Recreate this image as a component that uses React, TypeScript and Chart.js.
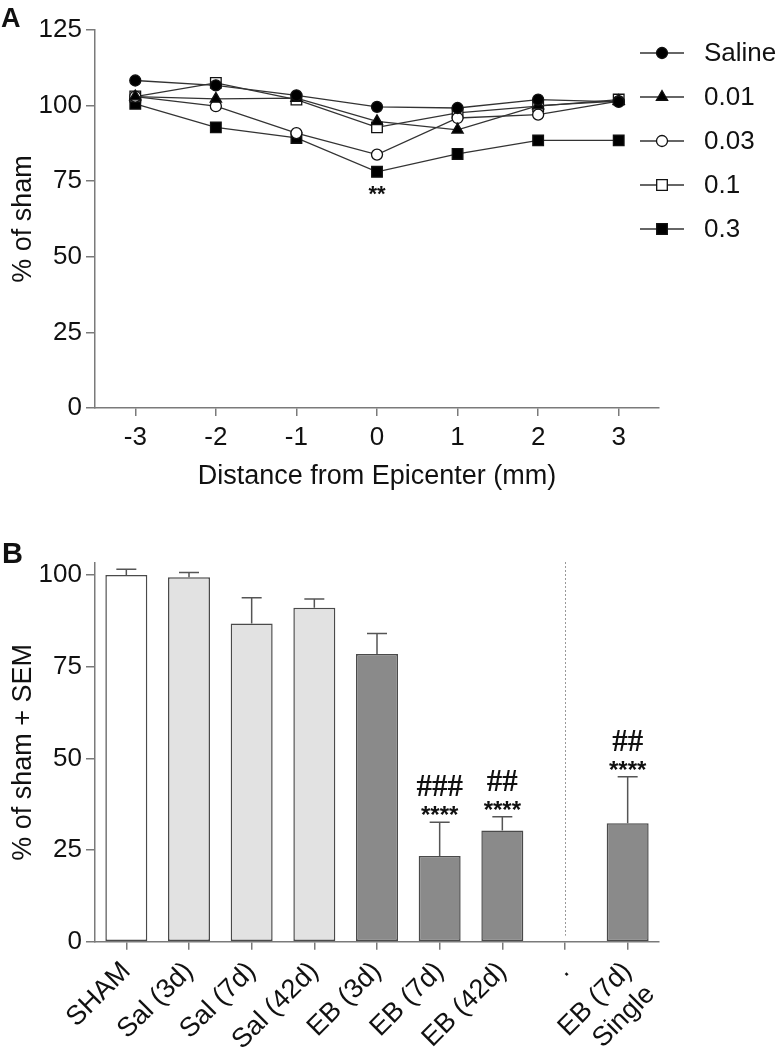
import React, { useEffect, useRef } from "react";
import { Chart, registerables } from "chart.js";
Chart.register(...registerables);

// ---------- Panel A data ----------
const distances = [-3, -2, -1, 0, 1, 2, 3];
const salineA = [108.3, 106.7, 103.4, 99.6, 99.2, 102, 101.2];
const dose001 = [103, 102.2, 102.5, 94.8, 92, 100, 101.5];
const dose003 = [103, 99.8, 90.9, 83.8, 95.9, 97, 101.5];
const dose01 = [103, 107.5, 102, 92.8, 97.6, 99.8, 102];
const dose03 = [100.6, 92.8, 89.3, 78.1, 84, 88.5, 88.5];
const seriesNames = ["Saline", "0.01", "0.03", "0.1", "0.3"];
const yTicksA = [0, 25, 50, 75, 100, 125];

// ---------- Panel B data ----------
const groups: (string | string[])[] = [
  "SHAM", "Sal (3d)", "Sal (7d)", "Sal (42d)", "EB (3d)", "EB (7d)", "EB (42d)", ".", ["EB (7d)", "Single"],
];
const means = [100, 99.4, 86.8, 91.1, 78.5, 23.4, 30.3, null, 32.3];
const sems = [1.6, 1.3, 7, 2.4, 5.6, 9.2, 3.8, null, 12.7];
const hashMarks = ["", "", "", "", "", "###", "##", "", "##"];
const starMarks = ["", "", "", "", "", "****", "****", "", "****"];
const yTicksB = [0, 25, 50, 75, 100];

const FONT = '"Liberation Sans", Arial, sans-serif';
const AXIS = "#7a7a7a";
const TXT = "#111";

const seriesValues = [salineA, dose001, dose003, dose01, dose03];
const markerStyles = [
  { pointStyle: "circle", radius: 5.5, fill: "#000" },
  { pointStyle: "triangle", radius: 6.5, fill: "#000" },
  { pointStyle: "circle", radius: 5.5, fill: "#fff" },
  { pointStyle: "rect", radius: 7.5, fill: "#fff" },
  { pointStyle: "rect", radius: 7.5, fill: "#000" },
];

function drawMarker(ctx: CanvasRenderingContext2D, style: string, r: number, x: number, y: number, fill: string) {
  ctx.save();
  ctx.fillStyle = fill;
  ctx.strokeStyle = "#111";
  ctx.lineWidth = 1.3;
  ctx.beginPath();
  if (style === "circle") {
    ctx.arc(x, y, r, 0, Math.PI * 2);
  } else if (style === "rect") {
    const s = Math.SQRT1_2 * r;
    ctx.rect(x - s, y - s, 2 * s, 2 * s);
  } else {
    for (let k = 0; k < 3; k++) {
      const a = (k * 2 * Math.PI) / 3;
      const px = x + Math.sin(a) * r;
      const py = y - Math.cos(a) * r;
      if (k === 0) ctx.moveTo(px, py);
      else ctx.lineTo(px, py);
    }
    ctx.closePath();
  }
  ctx.fill();
  ctx.stroke();
  ctx.restore();
}

function barFill(label: string | string[]) {
  const s = Array.isArray(label) ? label.join(" ") : label;
  if (s === "SHAM") return "#ffffff";
  if (s.startsWith("Sal")) return "#e2e2e2";
  return "#8a8a8a";
}

export default function App() {
  const refA = useRef<HTMLCanvasElement>(null);
  const refB = useRef<HTMLCanvasElement>(null);

  useEffect(() => {
    Chart.defaults.font.family = FONT;
    Chart.defaults.color = TXT;

    const legendPlugin = {
      id: "legendA",
      afterDraw(chart: any) {
        const ctx = chart.ctx as CanvasRenderingContext2D;
        const rows = [53, 97, 141, 185, 229];
        seriesNames.forEach((name, i) => {
          const y = rows[i];
          ctx.save();
          ctx.strokeStyle = "#333";
          ctx.lineWidth = 1.3;
          ctx.beginPath();
          ctx.moveTo(640, y);
          ctx.lineTo(684, y);
          ctx.stroke();
          ctx.restore();
          const m = markerStyles[i];
          drawMarker(ctx, m.pointStyle, m.radius, 662, y, m.fill);
          ctx.save();
          ctx.fillStyle = TXT;
          ctx.font = `26px ${FONT}`;
          ctx.textAlign = "left";
          ctx.textBaseline = "middle";
          ctx.fillText(name, 704, y + 1);
          ctx.restore();
        });
        const xs = chart.scales.x;
        const ys = chart.scales.y;
        const xi = distances.indexOf(0);
        ctx.save();
        ctx.fillStyle = TXT;
        ctx.font = `bold 22px ${FONT}`;
        ctx.textAlign = "center";
        ctx.textBaseline = "alphabetic";
        ctx.fillText("**", xs.getPixelForValue(distances[xi]), ys.getPixelForValue(dose03[xi]) + 29);
        ctx.font = `bold 27px ${FONT}`;
        ctx.textAlign = "left";
        ctx.fillText("A", 1, 27);
        ctx.restore();
      },
    };

    const chartA = new Chart(refA.current as HTMLCanvasElement, {
      type: "line",
      data: {
        datasets: seriesNames.map((name, i) => ({
          label: name,
          data: distances.map((d, j) => ({ x: d, y: seriesValues[i][j] })),
          borderColor: "#333",
          borderWidth: 1.3,
          pointStyle: markerStyles[i].pointStyle as any,
          pointRadius: markerStyles[i].radius,
          pointBackgroundColor: markerStyles[i].fill,
          pointBorderColor: "#111",
          pointBorderWidth: 1.3,
          tension: 0,
          fill: false,
        })),
      },
      options: {
        animation: false,
        responsive: false,
        layout: { padding: { left: 0, top: 30, right: 119, bottom: 5 } },
        plugins: { legend: { display: false }, tooltip: { enabled: false } },
        scales: {
          x: {
            type: "linear",
            min: -3.5,
            max: 3.5,
            afterBuildTicks: (s: any) => {
              s.ticks = distances.map((v) => ({ value: v }));
            },
            afterFit: (s: any) => {
              s.height = 87;
            },
            grid: { drawOnChartArea: false, drawTicks: true, tickLength: 8, color: AXIS, lineWidth: 1.5 },
            border: { color: AXIS, width: 1.5 },
            ticks: { font: { size: 26 }, color: TXT, padding: 6, callback: (v: any) => String(v) },
            title: {
              display: true,
              text: "Distance from Epicenter (mm)",
              font: { size: 27 },
              color: TXT,
              padding: { top: 0, bottom: 2 },
            },
          },
          y: {
            min: 0,
            max: 125,
            afterBuildTicks: (s: any) => {
              s.ticks = yTicksA.map((v) => ({ value: v }));
            },
            afterFit: (s: any) => {
              s.width = 95;
            },
            grid: { drawOnChartArea: false, drawTicks: true, tickLength: 9, color: AXIS, lineWidth: 1.5 },
            border: { color: AXIS, width: 1.5 },
            ticks: { font: { size: 26 }, color: TXT, padding: 4 },
            title: {
              display: true,
              text: "% of sham",
              font: { size: 27 },
              color: TXT,
              padding: { top: 7, bottom: 0 },
            },
          },
        },
      },
      plugins: [legendPlugin],
    } as any);

    const barPlugin = {
      id: "barExtras",
      afterDatasetsDraw(chart: any) {
        const ctx = chart.ctx as CanvasRenderingContext2D;
        const xs = chart.scales.x;
        const ys = chart.scales.y;
        ctx.save();
        ctx.strokeStyle = "#555";
        ctx.lineWidth = 1.5;
        means.forEach((m, i) => {
          const e = sems[i];
          if (m === null || e === null) return;
          const x = xs.getPixelForValue(i);
          const y0 = ys.getPixelForValue(m);
          const y1 = ys.getPixelForValue(m + e);
          ctx.beginPath();
          ctx.moveTo(x, y0);
          ctx.lineTo(x, y1);
          ctx.moveTo(x - 10, y1);
          ctx.lineTo(x + 10, y1);
          ctx.stroke();
        });
        ctx.restore();
      },
      afterDraw(chart: any) {
        const ctx = chart.ctx as CanvasRenderingContext2D;
        const xs = chart.scales.x;
        const ys = chart.scales.y;
        const area = chart.chartArea;
        const gap = means.indexOf(null);
        const xd = xs.getPixelForValue(gap);
        ctx.save();
        ctx.strokeStyle = "#999";
        ctx.lineWidth = 1;
        ctx.setLineDash([2, 2]);
        ctx.beginPath();
        ctx.moveTo(xd + 0.5, area.top - 1);
        ctx.lineTo(xd + 0.5, area.bottom - 6);
        ctx.stroke();
        ctx.restore();
        ctx.save();
        ctx.fillStyle = TXT;
        ctx.textAlign = "center";
        ctx.textBaseline = "alphabetic";
        means.forEach((m, i) => {
          const e = sems[i];
          if (m === null || e === null) return;
          const x = xs.getPixelForValue(i);
          const yt = ys.getPixelForValue(m + e);
          if (starMarks[i]) {
            ctx.font = `bold 24px ${FONT}`;
            ctx.fillText(starMarks[i], x, yt + 1);
          }
          if (hashMarks[i]) {
            ctx.font = `bold 31px "Liberation Serif", serif`;
            ctx.fillText(hashMarks[i], x, yt - 26);
          }
        });
        ctx.font = `bold 29px ${FONT}`;
        ctx.textAlign = "left";
        ctx.fillText("B", 2, 63);
        ctx.restore();
      },
    };

    const chartB = new Chart(refB.current as HTMLCanvasElement, {
      type: "bar",
      data: {
        labels: groups,
        datasets: [
          {
            data: means,
            backgroundColor: groups.map(barFill),
            borderColor: "#4a4a4a",
            borderWidth: 1.5,
            borderSkipped: false,
            barPercentage: 0.67,
            categoryPercentage: 1,
          },
        ],
      },
      options: {
        animation: false,
        responsive: false,
        layout: { padding: { left: 0, top: 63, right: 119, bottom: 0 } },
        plugins: { legend: { display: false }, tooltip: { enabled: false } },
        scales: {
          x: {
            afterFit: (s: any) => {
              s.height = 108.3;
            },
            grid: { offset: false, drawOnChartArea: false, drawTicks: true, tickLength: 8, color: AXIS, lineWidth: 1.5 },
            border: { color: AXIS, width: 1.5 },
            ticks: { font: { size: 27 }, color: TXT, padding: 6, minRotation: 45, maxRotation: 45, autoSkip: false },
          },
          y: {
            min: 0,
            max: 103.3,
            afterBuildTicks: (s: any) => {
              s.ticks = yTicksB.map((v) => ({ value: v }));
            },
            afterFit: (s: any) => {
              s.width = 95;
            },
            grid: { drawOnChartArea: false, drawTicks: true, tickLength: 9, color: AXIS, lineWidth: 1.5 },
            border: { color: AXIS, width: 1.5 },
            ticks: { font: { size: 26 }, color: TXT, padding: 4 },
            title: {
              display: true,
              text: "% of sham + SEM",
              font: { size: 27 },
              color: TXT,
              padding: { top: 7, bottom: 0 },
            },
          },
        },
      },
      plugins: [barPlugin],
    } as any);

    return () => {
      chartA.destroy();
      chartB.destroy();
    };
  }, []);

  return (
    <div style={{ position: "absolute", left: 0, top: 0, width: 778, height: 1050, background: "#fff" }}>
      <canvas ref={refA} width={778} height={500} style={{ position: "absolute", left: 0, top: 0 }} />
      <canvas ref={refB} width={778} height={550} style={{ position: "absolute", left: 0, top: 500 }} />
    </div>
  );
}
